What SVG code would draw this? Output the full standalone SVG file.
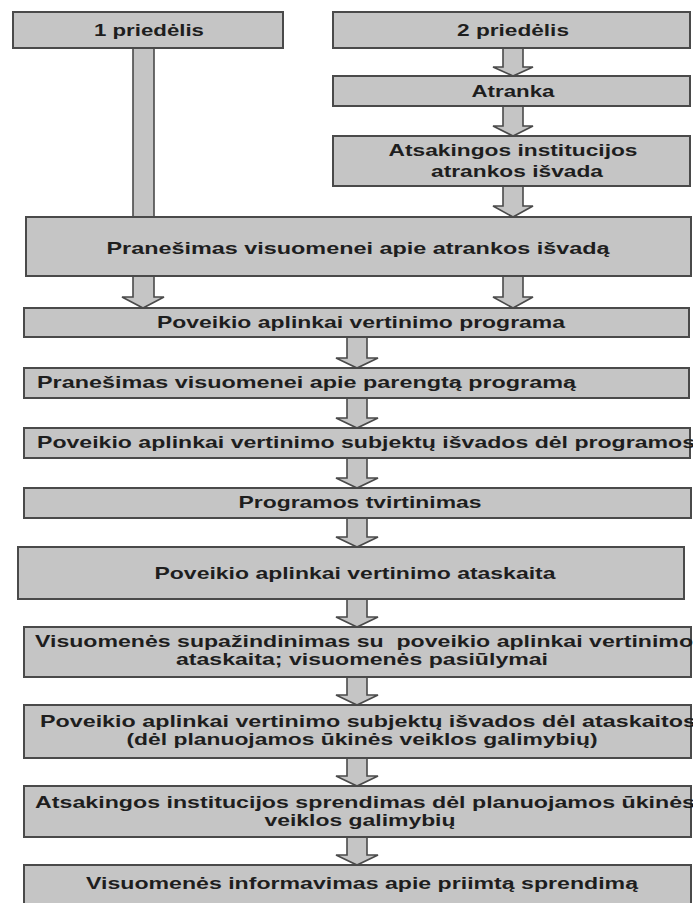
<svg xmlns="http://www.w3.org/2000/svg" width="693" height="903" viewBox="0 0 693 903">
<style>
.bg{fill:#ffffff}
.box{fill:#c5c5c5;stroke:#4a4a4a;stroke-width:2}
.arr{fill:#c5c5c5;stroke:#4a4a4a;stroke-width:1.6;stroke-linejoin:miter}
.t{font-family:"Liberation Sans",Arial,sans-serif;font-weight:bold;font-size:17px;fill:#1e1e1e}
.c{text-anchor:middle}
.s{text-anchor:start}
</style>
<rect class="bg" x="0" y="0" width="693" height="903"/>
<g id="connectors">
  <rect class="arr" x="133" y="48" width="21" height="169"/>
  <path class="arr" d="M503,48 L523,48 L523,67 L533,67 L513,76 L493,67 L503,67 Z"/>
  <path class="arr" d="M503,106 L523,106 L523,126 L533,126 L513,136 L493,126 L503,126 Z"/>
  <path class="arr" d="M503,186 L523,186 L523,206 L533,206 L513,217 L493,206 L503,206 Z"/>
  <path class="arr" d="M133,276 L154,276 L154,297 L164,297 L143,308 L122,297 L133,297 Z"/>
  <path class="arr" d="M503,276 L523,276 L523,297 L533,297 L513,308 L493,297 L503,297 Z"/>
  <path class="arr" d="M347,337 L367,337 L367,358 L378,358 L357,368 L336,358 L347,358 Z"/>
  <path class="arr" d="M347,398 L367,398 L367,418 L378,418 L357,428 L336,418 L347,418 Z"/>
  <path class="arr" d="M347,458 L367,458 L367,478 L378,478 L357,488 L336,478 L347,478 Z"/>
  <path class="arr" d="M347,518 L367,518 L367,537 L378,537 L357,547 L336,537 L347,537 Z"/>
  <path class="arr" d="M347,599 L367,599 L367,617 L378,617 L357,627 L336,617 L347,617 Z"/>
  <path class="arr" d="M347,677 L367,677 L367,695 L378,695 L357,705 L336,695 L347,695 Z"/>
  <path class="arr" d="M347,758 L367,758 L367,776 L378,776 L357,786 L336,776 L347,776 Z"/>
  <path class="arr" d="M347,837 L367,837 L367,855 L378,855 L357,865 L336,855 L347,855 Z"/>
</g>
<g id="n1">
  <rect class="box" x="13" y="12" width="270" height="36"/>
  <text class="t c" x="149" y="36" textLength="110" lengthAdjust="spacingAndGlyphs">1 priedėlis</text>
</g>
<g id="n2">
  <rect class="box" x="333" y="12" width="357" height="36"/>
  <text class="t c" x="513" y="36" textLength="112" lengthAdjust="spacingAndGlyphs">2 priedėlis</text>
</g>
<g id="n3">
  <rect class="box" x="333" y="76" width="357" height="30"/>
  <text class="t c" x="513" y="97" textLength="83" lengthAdjust="spacingAndGlyphs">Atranka</text>
</g>
<g id="n4">
  <rect class="box" x="333" y="136" width="357" height="50"/>
  <text class="t c" x="513" y="156" textLength="249" lengthAdjust="spacingAndGlyphs">Atsakingos institucijos</text>
  <text class="t c" x="517" y="177" textLength="172" lengthAdjust="spacingAndGlyphs">atrankos išvada</text>
</g>
<g id="n5">
  <rect class="box" x="26" y="217" width="665" height="59"/>
  <text class="t c" x="358" y="254" textLength="503" lengthAdjust="spacingAndGlyphs">Pranešimas visuomenei apie atrankos išvadą</text>
</g>
<g id="n6">
  <rect class="box" x="24" y="308" width="665" height="29"/>
  <text class="t c" x="361" y="328" textLength="408" lengthAdjust="spacingAndGlyphs">Poveikio aplinkai vertinimo programa</text>
</g>
<g id="n7">
  <rect class="box" x="24" y="368" width="665" height="30"/>
  <text class="t s" x="37" y="388" textLength="539" lengthAdjust="spacingAndGlyphs">Pranešimas visuomenei apie parengtą programą</text>
</g>
<g id="n8">
  <rect class="box" x="24" y="428" width="666" height="30"/>
  <text class="t s" x="37" y="448" textLength="658" lengthAdjust="spacingAndGlyphs">Poveikio aplinkai vertinimo subjektų išvados dėl programos</text>
</g>
<g id="n9">
  <rect class="box" x="24" y="488" width="667" height="30"/>
  <text class="t c" x="360" y="508" textLength="243" lengthAdjust="spacingAndGlyphs">Programos tvirtinimas</text>
</g>
<g id="n10">
  <rect class="box" x="18" y="547" width="666" height="52"/>
  <text class="t c" x="355" y="579" textLength="401" lengthAdjust="spacingAndGlyphs">Poveikio aplinkai vertinimo ataskaita</text>
</g>
<g id="n11">
  <rect class="box" x="24" y="627" width="667" height="50"/>
  <text class="t s" x="35" y="647" textLength="658" lengthAdjust="spacingAndGlyphs" style="white-space:pre">Visuomenės supažindinimas su  poveikio aplinkai vertinimo</text>
  <text class="t c" x="362" y="665" textLength="372" lengthAdjust="spacingAndGlyphs">ataskaita; visuomenės pasiūlymai</text>
</g>
<g id="n12">
  <rect class="box" x="24" y="705" width="667" height="53"/>
  <text class="t s" x="40" y="727" textLength="656" lengthAdjust="spacingAndGlyphs">Poveikio aplinkai vertinimo subjektų išvados dėl ataskaitos</text>
  <text class="t c" x="362" y="745" textLength="471" lengthAdjust="spacingAndGlyphs">(dėl planuojamos ūkinės veiklos galimybių)</text>
</g>
<g id="n13">
  <rect class="box" x="24" y="786" width="667" height="51"/>
  <text class="t s" x="35" y="808" textLength="660" lengthAdjust="spacingAndGlyphs">Atsakingos institucijos sprendimas dėl planuojamos ūkinės</text>
  <text class="t c" x="360" y="826" textLength="191" lengthAdjust="spacingAndGlyphs">veiklos galimybių</text>
</g>
<g id="n14">
  <rect class="box" x="24" y="865" width="667" height="42"/>
  <text class="t c" x="362" y="889" textLength="552" lengthAdjust="spacingAndGlyphs">Visuomenės informavimas apie priimtą sprendimą</text>
</g>
</svg>
